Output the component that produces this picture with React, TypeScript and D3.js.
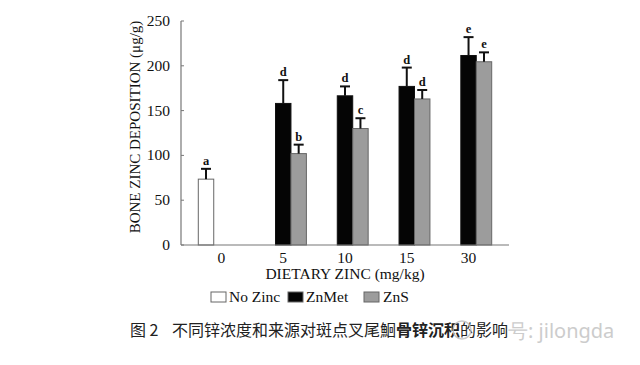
import React from "react";
import * as d3 from "d3";

// dietary zinc levels (mg/kg)
const groups = ["0", "5", "10", "15", "30"];
const seriesKeys = ["No Zinc", "ZnMet", "ZnS"];

// bone zinc deposition (ug/g)
const noZincMean = [73.5];
const noZincErr = [11.5];
const noZincLetters = ["a"];

const znMetMean = [158, 166.5, 177, 211.5];
const znMetErr = [26, 10.5, 21, 20.5];
const znMetLetters = ["d", "d", "d", "e"];

const znsMean = [102, 130, 163, 204.5];
const znsErr = [10, 11.5, 10, 10.5];
const znsLetters = ["b", "c", "d", "e"];

const yTicks = [0, 50, 100, 150, 200, 250];

const colors: Record<string, string> = {
  "No Zinc": "#ffffff",
  ZnMet: "#050505",
  ZnS: "#9c9c9c",
};

type Row = { group: string; series: string; value: number; err: number; letter: string };

const rows: Row[] = [
  ...noZincMean.map((v, i) => ({ group: groups[i], series: "No Zinc", value: v, err: noZincErr[i], letter: noZincLetters[i] })),
  ...znMetMean.map((v, i) => ({ group: groups[i + 1], series: "ZnMet", value: v, err: znMetErr[i], letter: znMetLetters[i] })),
  ...znsMean.map((v, i) => ({ group: groups[i + 1], series: "ZnS", value: v, err: znsErr[i], letter: znsLetters[i] })),
];

const serif = "'Liberation Serif', 'Times New Roman', serif";

export default function App() {
  const left = 181;
  const right = 509;
  const top = 21;
  const bottom = 245;

  const x0 = d3.scaleBand().domain(groups).range([left, right]).paddingInner(0.25).paddingOuter(0.28);
  const x1 = d3.scaleBand().domain(seriesKeys).range([0, x0.bandwidth()]);
  const y = d3.scaleLinear().domain([0, 250]).range([bottom, top]);

  const bw = x1.bandwidth();

  return (
    <svg width={640} height={365} style={{ position: "absolute", left: 0, top: 0, background: "#fff" }}>
      {/* bars */}
      {rows.map((d, i) => {
        const bx = (x0(d.group) ?? 0) + (x1(d.series) ?? 0);
        const cx = bx + bw / 2;
        const yTop = y(d.value);
        const yErr = y(d.value + d.err);
        return (
          <g key={i}>
            <rect
              x={bx}
              y={yTop}
              width={bw}
              height={bottom - yTop}
              fill={colors[d.series]}
              stroke={d.series === "ZnMet" ? "#111" : "#666"}
              strokeWidth={1}
            />
            <line x1={cx} x2={cx} y1={yTop} y2={yErr} stroke="#111" strokeWidth={2} />
            <line x1={cx - 5} x2={cx + 5} y1={yErr} y2={yErr} stroke="#111" strokeWidth={2} />
            <text x={cx} y={yErr - 4} textAnchor="middle" fontFamily={serif} fontSize={12.5} fontWeight="bold" fill="#111">
              {d.letter}
            </text>
          </g>
        );
      })}

      {/* axes */}
      <line x1={left} x2={left} y1={top} y2={bottom} stroke="#777" strokeWidth={1.2} />
      <line x1={left} x2={right} y1={bottom} y2={bottom} stroke="#777" strokeWidth={1.2} />
      {yTicks.map((t) => (
        <g key={t}>
          <line x1={left} x2={left + 3} y1={y(t)} y2={y(t)} stroke="#777" strokeWidth={1} />
          <text x={170} y={y(t) + 5} textAnchor="end" fontFamily={serif} fontSize={15.5} fill="#111">
            {t}
          </text>
        </g>
      ))}
      {groups.map((g) => (
        <text
          key={g}
          x={(x0(g) ?? 0) + x0.bandwidth() / 2}
          y={263}
          textAnchor="middle"
          fontFamily={serif}
          fontSize={15.5}
          fill="#111"
        >
          {g}
        </text>
      ))}
      <text x={345} y={279} textAnchor="middle" fontFamily={serif} fontSize={15.5} fill="#111">
        DIETARY ZINC (mg/kg)
      </text>
      <text
        transform={`translate(140,127) rotate(-90)`}
        textAnchor="middle"
        fontFamily={serif}
        fontSize={15}
        fill="#111"
      >
        BONE ZINC DEPOSITION (μg/g)
      </text>

      {/* legend */}
      {[
        { key: "No Zinc", bx: 211, tx: 229 },
        { key: "ZnMet", bx: 288, tx: 306 },
        { key: "ZnS", bx: 364, tx: 383 },
      ].map((l) => (
        <g key={l.key}>
          <rect x={l.bx} y={292} width={15} height={10} fill={colors[l.key]} stroke="#666" strokeWidth={1} />
          <text x={l.tx} y={302} fontFamily={serif} fontSize={15.5} fill="#111">
            {l.key}
          </text>
        </g>
      ))}

      {/* caption */}
      <text x={130} y={336} fontFamily="'Noto Sans CJK SC', sans-serif" fontSize={16} fill="#222">
        <tspan>图 2 </tspan>
        <tspan x={172}>不同锌浓度和来源对斑点叉尾鮰</tspan>
        <tspan fontWeight="bold">骨锌沉积</tspan>
        <tspan>的影响</tspan>
      </text>

      {/* watermark */}
      <circle cx={462} cy={330} r={9} fill="none" stroke="#bbb" strokeWidth={1.5} opacity={0.8} />
      <text x={508} y={338} fontFamily="'Noto Sans', sans-serif" fontSize={20} fill="#c4c4c4" opacity={0.85}>
        号: jilongda
      </text>
    </svg>
  );
}
